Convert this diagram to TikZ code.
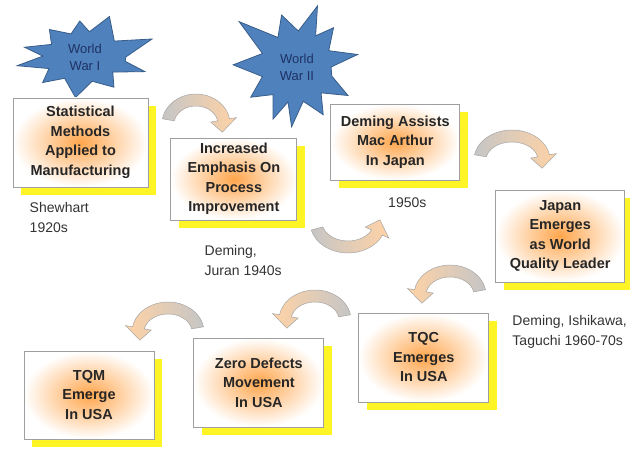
\documentclass[tikz,border=0pt]{standalone}
\usepackage{fontspec}
\setmainfont{Liberation Sans}
\usetikzlibrary{shadows, calc, positioning}
\definecolor{burstblue}{RGB}{79,129,189}
\definecolor{burstedge}{RGB}{56,93,138}
\definecolor{burstink}{RGB}{30,50,100}
\tikzstyle{stage} = [rectangle, draw=gray!75, line width=0.9pt, inner color=orange!70, outer color=white, text=black!85, font=\bfseries\fontsize{14.5}{19.5}\selectfont, align=center, general shadow={fill=yellow!85, shadow xshift=8pt, shadow yshift=-8pt}]
\tikzstyle{note} = [inner sep=0pt, align=left, text=black!80, font=\fontsize{14}{20}\selectfont]
\tikzstyle{burst} = [fill=burstblue, draw=burstedge, line width=0.8pt, line join=miter]
\tikzstyle{burstlabel} = [align=center, text=burstink, font=\fontsize{13}{17}\selectfont]
\tikzstyle{bandarrow} = [draw=gray!70, line width=0.5pt, left color=gray!45, right color=orange!35]
\tikzstyle{bandback} = [bandarrow, left color=orange!35, right color=gray!45]
\newcommand{\bendarrow}[6][]{%
  \pgfmathsetmacro{\tipang}{#4+30*(2*(#4>#3)-1)}%
  \draw[bandarrow, #1] ($(#2)+(#3:#5+6 and #6+6)$) arc[start angle=#3, end angle=#4, x radius=#5+6, y radius=#6+6]
    -- ($(#2)+(#4:#5+13 and #6+13)$) -- ($(#2)+(\tipang:#5 and #6)$) -- ($(#2)+(#4:#5-13 and #6-13)$)
    -- ($(#2)+(#4:#5-6 and #6-6)$) arc[start angle=#4, end angle=#3, x radius=#5-6, y radius=#6-6] -- cycle;}

\begin{document}
\begin{tikzpicture}[x=1pt, y=1pt]
\useasboundingbox (0,0) rectangle (630,450);
\coordinate (w1) at (85,393);
\coordinate (w2) at (297,383);
\draw[burst] ($(w1)+(0:0.6*68 and 0.6*41)$) \foreach \a/\r in {24/1.08, 42/0.58, 70/1.05, 84/0.62, 95/0.88, 110/0.6, 128/0.85, 148/0.58, 165/0.92, 178/0.62, 192/1.02, 208/0.6, 225/0.88, 240/0.6, 262/1.0, 280/0.6, 300/0.85, 318/0.55, 338/0.95, 350/0.6} { -- ($(w1)+(\a:\r*68 and \r*41)$) } -- cycle;
\draw[burst] ($(w2)+(0:0.55*62 and 0.55*60)$) \foreach \a/\r in {12/1.0, 28/0.58, 48/0.88, 60/0.6, 72/1.07, 88/0.6, 106/0.9, 122/0.58, 141/1.2, 158/0.6, 178/1.03, 196/0.58, 214/0.9, 230/0.6, 246/0.95, 256/0.6, 265/1.0, 280/0.58, 298/0.9, 312/0.58, 330/0.95, 345/0.58} { -- ($(w2)+(\a:\r*62 and \r*60)$) } -- cycle;
\node[burstlabel] (ww1) at (w1) {World\\War I};
\node[burstlabel] (ww2) at (w2) {World\\War II};
\node[stage, minimum width=135pt, minimum height=89pt] (stat) at (80.5,307.5) {Statistical\\Methods\\Applied to\\Manufacturing};
\node[stage, minimum width=126pt, minimum height=82pt, right=22pt of stat, yshift=-36.5pt] (emph) {Increased\\Emphasis On\\Process\\Improvement};
\node[stage, minimum width=129pt, minimum height=76pt, right=33pt of emph, yshift=37pt] (deming) {Deming Assists\\Mac Arthur\\In Japan};
\node[stage, minimum width=129pt, minimum height=92pt, right=35pt of deming, yshift=-94pt] (japan) {Japan\\Emerges\\as World\\Quality Leader};
\node[stage, minimum width=130pt, minimum height=89pt, left=6pt of japan, yshift=-121.5pt] (tqc) {TQC\\Emerges\\In USA};
\node[stage, minimum width=130pt, minimum height=89pt, left=34pt of tqc, yshift=-25pt] (zero) {Zero Defects\\Movement\\In USA};
\node[stage, minimum width=130pt, minimum height=88pt, left=39pt of zero, yshift=-12.5pt] (tqm) {TQM\\Emerge\\In USA};
\node[note, below right=15pt and 17pt of stat.south west] (shewhart) {Shewhart\\1920s};
\node[note, below right=25pt and 34pt of emph.south west] (juran) {Deming,\\Juran 1940s};
\node[note, below=17pt of deming, xshift=12pt] (fifties) {1950s};
\node[note, below right=33pt and 17pt of japan.south west] (taguchi) {Deming, Ishikawa,\\Taguchi 1960-70s};
\coordinate (a1) at (196,326);
\coordinate (a2) at (512,290);
\coordinate (a3) at (450,155);
\coordinate (a4) at (315,130);
\coordinate (a5) at (168,118);
\coordinate (a6) at (348,228);
\bendarrow{a1}{170}{10}{28}{24}
\bendarrow{a2}{170}{10}{32}{24}
\bendarrow[bandback]{a3}{10}{170}{30}{24}
\bendarrow[bandback]{a4}{10}{170}{30}{24}
\bendarrow[bandback]{a5}{10}{170}{30}{24}
\bendarrow{a6}{195}{335}{32}{25}
\end{tikzpicture}
\end{document}
